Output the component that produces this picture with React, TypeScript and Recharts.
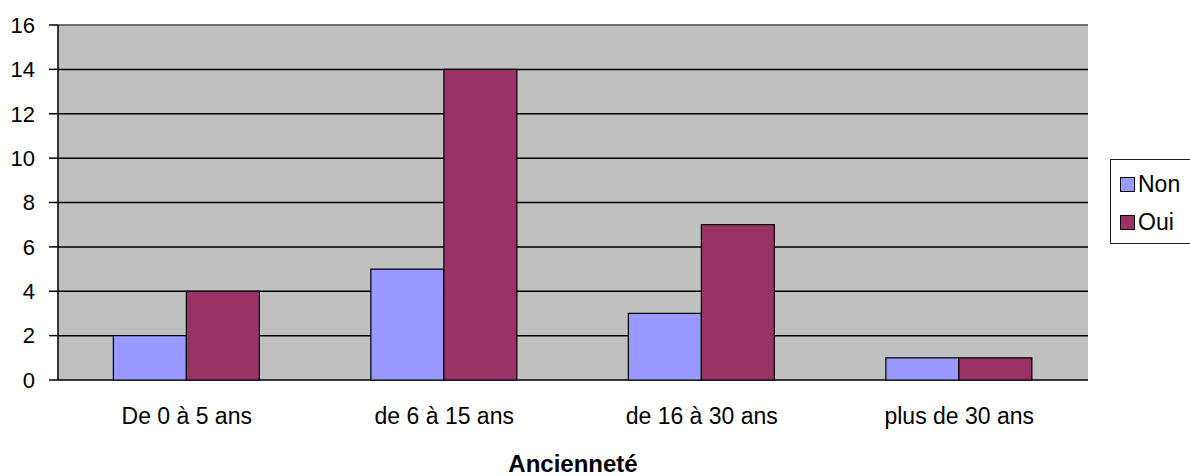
import React from "react";
import {
  BarChart,
  Bar,
  XAxis,
  YAxis,
  CartesianGrid,
  ReferenceLine,
  Label,
} from "recharts";

const categories = ["De 0 à 5 ans", "de 6 à 15 ans", "de 16 à 30 ans", "plus de 30 ans"];
const nonValues = [2, 5, 3, 1];
const ouiValues = [4, 14, 7, 1];
const yTicks = [0, 2, 4, 6, 8, 10, 12, 14, 16];
const boundaryTicks = [0, 1, 2, 3, 4];
const seriesNames = ["Non", "Oui"];
const seriesColors = ["#9999FF", "#993366"];
const axisTitle = "Ancienneté";

const data = categories.map((c, i) => ({
  name: c,
  Non: nonValues[i],
  Oui: ouiValues[i],
}));

const FONT = "'Liberation Sans', Arial, sans-serif";

const LegendBox = () => (
  <div
    style={{
      position: "absolute",
      left: 1110,
      top: 159,
      border: "1px solid #222",
      background: "#fff",
      width: 100,
      height: 85,
      boxSizing: "border-box",
      paddingLeft: 9,
      paddingTop: 8,
      fontFamily: FONT,
      fontSize: 23,
      color: "#000",
    }}
  >
    {seriesNames.map((n, i) => (
      <div key={n} style={{ display: "flex", alignItems: "center", height: 32, marginBottom: 6 }}>
        <div
          style={{
            width: 13,
            height: 13,
            background: seriesColors[i],
            border: "1px solid #000",
            marginRight: 3,
          }}
        />
        <span>{n}</span>
      </div>
    ))}
  </div>
);

export default function App() {
  return (
    <div style={{ position: "absolute", left: 0, top: 0, width: 1190, height: 476, background: "#fff", fontFamily: FONT, overflow: "hidden" }}>
      <BarChart
        width={1190}
        height={476}
        data={data}
        margin={{ top: 25, right: 102, left: 0, bottom: 0 }}
        barCategoryGap="21.5%"
        barGap={0}
      >
        <CartesianGrid
          xAxisId="cat"
          vertical={false}
          stroke="#000"
          strokeWidth={1.5}
          fill="#C0C0C0"
          fillOpacity={1}
        />
        <XAxis
          xAxisId="b"
          type="number"
          domain={[0, 4]}
          ticks={boundaryTicks}
          tick={false}
          tickSize={9}
          height={0}
          axisLine={{ stroke: "#000", strokeWidth: 1.5 }}
          tickLine={{ stroke: "#000", strokeWidth: 1.5 }}
        />
        <XAxis
          xAxisId="cat"
          dataKey="name"
          height={96}
          axisLine={false}
          tickLine={false}
          tickSize={0}
          tickMargin={28}
          interval={0}
          tick={{ fill: "#000", fontSize: 23, fontFamily: FONT }}
        >
          <Label
            value={axisTitle}
            position="insideBottom"
            offset={4}
            style={{ fill: "#000", fontSize: 24, fontWeight: "bold", fontFamily: FONT }}
          />
        </XAxis>
        <YAxis
          domain={[0, 16]}
          ticks={yTicks}
          width={58}
          tickSize={9}
          tickMargin={14}
          interval={0}
          axisLine={{ stroke: "#000", strokeWidth: 1.5 }}
          tickLine={{ stroke: "#000", strokeWidth: 1.5 }}
          tick={{ fill: "#000", fontSize: 22, fontFamily: FONT }}
        />
        <YAxis
          yAxisId="r"
          orientation="right"
          width={0}
          tick={false}
          tickLine={false}
          axisLine={{ stroke: "#808080", strokeWidth: 1.5 }}
        />
        <ReferenceLine xAxisId="cat" y={16} stroke="#808080" strokeWidth={1.5} />
        <Bar
          xAxisId="cat"
          dataKey="Non"
          fill={seriesColors[0]}
          stroke="#000"
          strokeWidth={1.2}
          isAnimationActive={false}
        />
        <Bar
          xAxisId="cat"
          dataKey="Oui"
          fill={seriesColors[1]}
          stroke="#000"
          strokeWidth={1.2}
          isAnimationActive={false}
        />
      </BarChart>
      <LegendBox />
    </div>
  );
}
